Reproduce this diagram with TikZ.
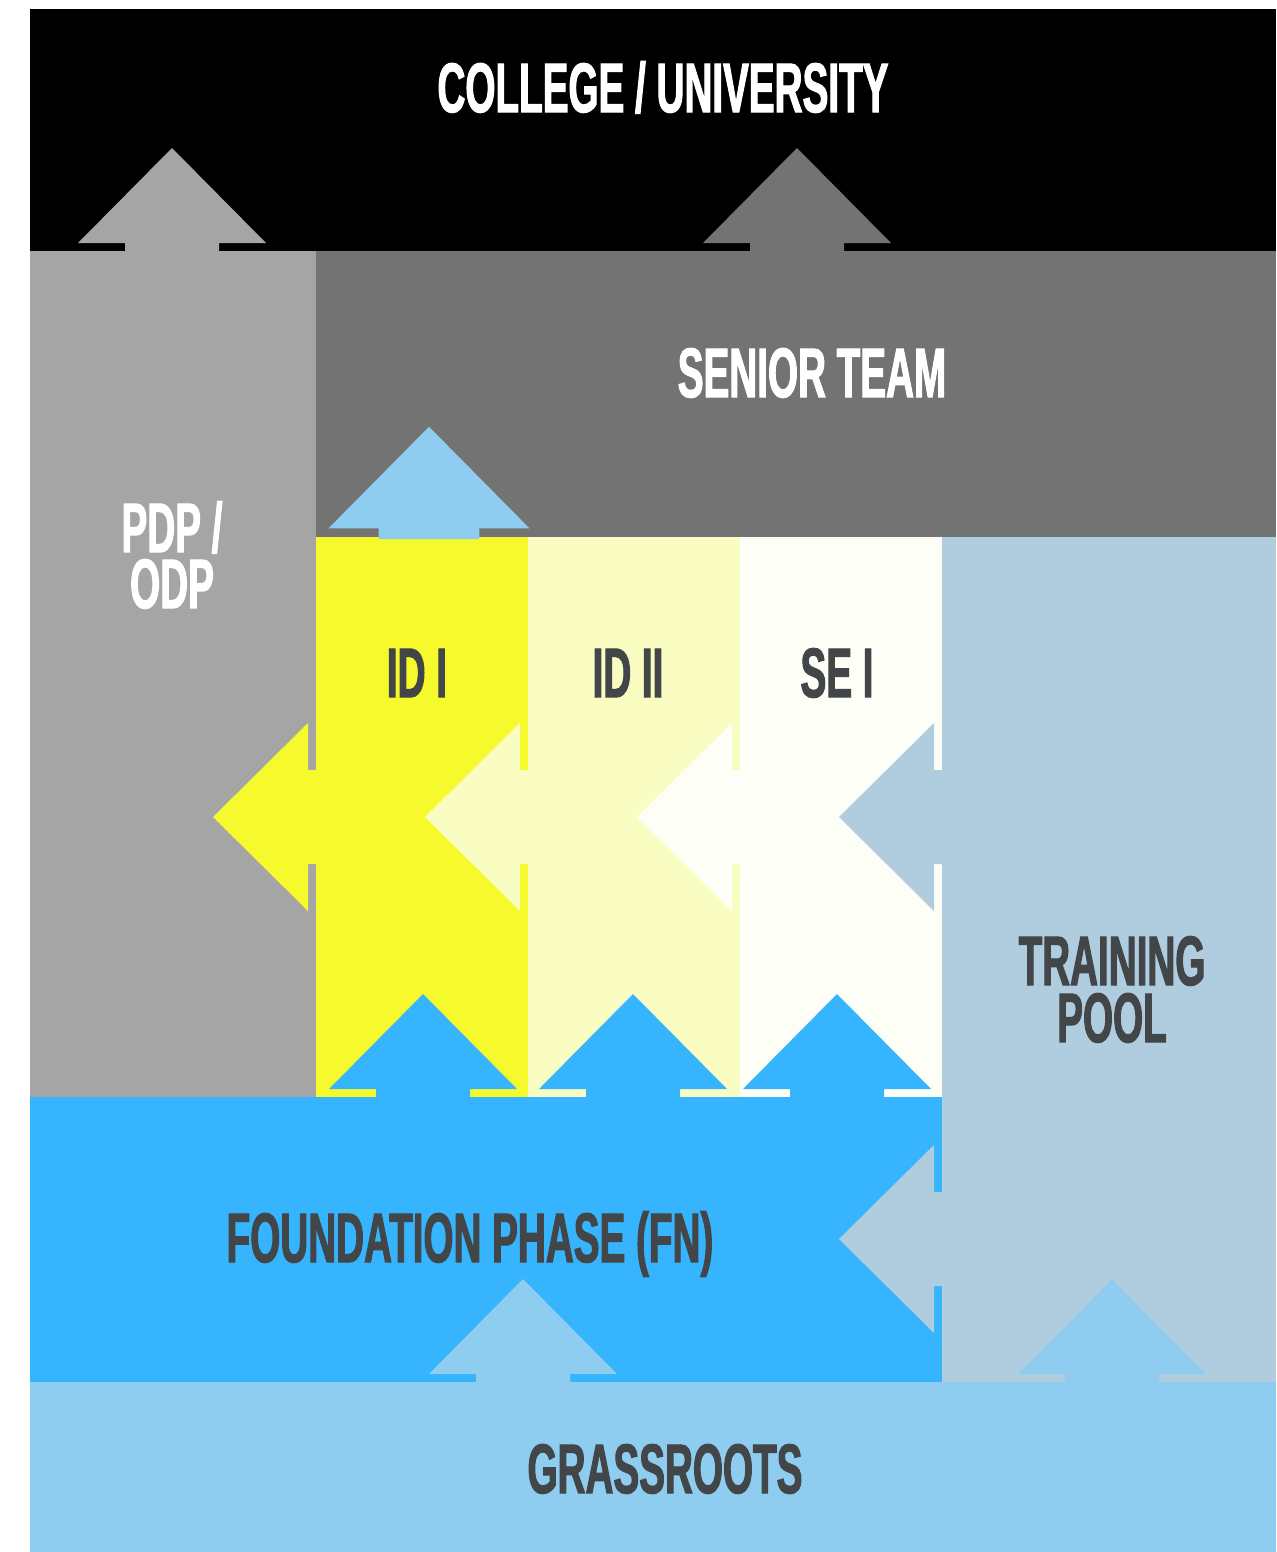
\documentclass[tikz,border=0pt]{standalone}
\usepackage{fontspec}
\newfontfamily\tierfont[FakeStretch=0.55,FakeBold=1.5]{Liberation Sans}

\definecolor{collegeblack}{HTML}{000000}
\definecolor{pdpgray}{HTML}{A5A5A5}
\definecolor{seniorgray}{HTML}{737373}
\definecolor{idone}{HTML}{F6FA2C}
\definecolor{idtwo}{HTML}{F9FDC2}
\definecolor{seone}{HTML}{FDFEF5}
\definecolor{poolblue}{HTML}{B0CDE0}
\definecolor{fnblue}{HTML}{36B4FD}
\definecolor{grassblue}{HTML}{8ECDEF}
\definecolor{labeldark}{HTML}{424648}

\tikzset{
  tier/.style={font=\tierfont\bfseries\fontsize{40}{32}\selectfont,
    text depth=0pt, text height=28.6pt, inner sep=0pt},
  tierlight/.style={tier, text=white},
  tierdark/.style={tier, text=labeldark},
  % fat arrow, base on the edge of its own block, tip pointing up
  pics/blockarrow/.style={code={
    \fill[#1] (-47,2) -- (-47,-8) -- (-94,-8) -- (0,-103) -- (94,-8) -- (47,-8) -- (47,2) -- cycle;
  }}
}

\begin{document}
\begin{tikzpicture}[x=0.02cm, y=-0.02cm]
    \fill[white] (0,0) rectangle (1276,1552);
    \useasboundingbox (0,0) rectangle (1276,1552);

    % blocks
    \fill[collegeblack] (30,9) rectangle (1276,251);
    \fill[pdpgray] (30,251) rectangle (316,1097);
    \fill[seniorgray] (316,251) rectangle (1276,537);
    \fill[idone] (316,537) rectangle (528,1097);
    \fill[idtwo] (528,537) rectangle (740,1097);
    \fill[seone] (740,537) rectangle (942,1097);
    \fill[poolblue] (942,537) rectangle (1276,1382);
    \fill[fnblue] (30,1097) rectangle (942,1382);
    \fill[grassblue] (30,1382) rectangle (1276,1552);

    % arrows into the college block
    \pic at (172,251) {blockarrow=pdpgray};
    \pic at (797,251) {blockarrow=seniorgray};
    % into the senior team
    \pic[scale=1.07] at (429,537) {blockarrow=grassblue};
    % sideways, each column into the one on its left
    \pic[rotate=90] at (316,817) {blockarrow=idone};
    \pic[rotate=90] at (528,817) {blockarrow=idtwo};
    \pic[rotate=90] at (740,817) {blockarrow=seone};
    \pic[rotate=90] at (942,817) {blockarrow=poolblue};
    \pic[rotate=90] at (942,1239) {blockarrow=poolblue};
    % up from the foundation phase
    \foreach \cx in {423,633,837}
        \pic at (\cx,1097) {blockarrow=fnblue};
    % up from grassroots
    \pic at (523,1382) {blockarrow=grassblue};
    \pic at (1112,1382) {blockarrow=grassblue};

    % labels
    \node[tierlight] (college) at (663,87) {COLLEGE / UNIVERSITY};
    \node[tierlight] (senior) at (812,372) {SENIOR TEAM};
    \node[tierlight] (pdp) at (172,527) {PDP /};
    \node[tierlight] (odp) at (172,583) {ODP};
    \node[tierdark] (id1) at (417,672) {ID I};
    \node[tierdark] (id2) at (628,672) {ID II};
    \node[tierdark] (se1) at (837,672) {SE I};
    \node[tierdark] (training) at (1112,960) {TRAINING};
    \node[tierdark] (pool) at (1112,1017) {POOL};
    \node[tierdark] (fn) at (470,1237) {FOUNDATION PHASE (FN)};
    \node[tierdark] (grass) at (665,1468) {GRASSROOTS};
\end{tikzpicture}
\end{document}
